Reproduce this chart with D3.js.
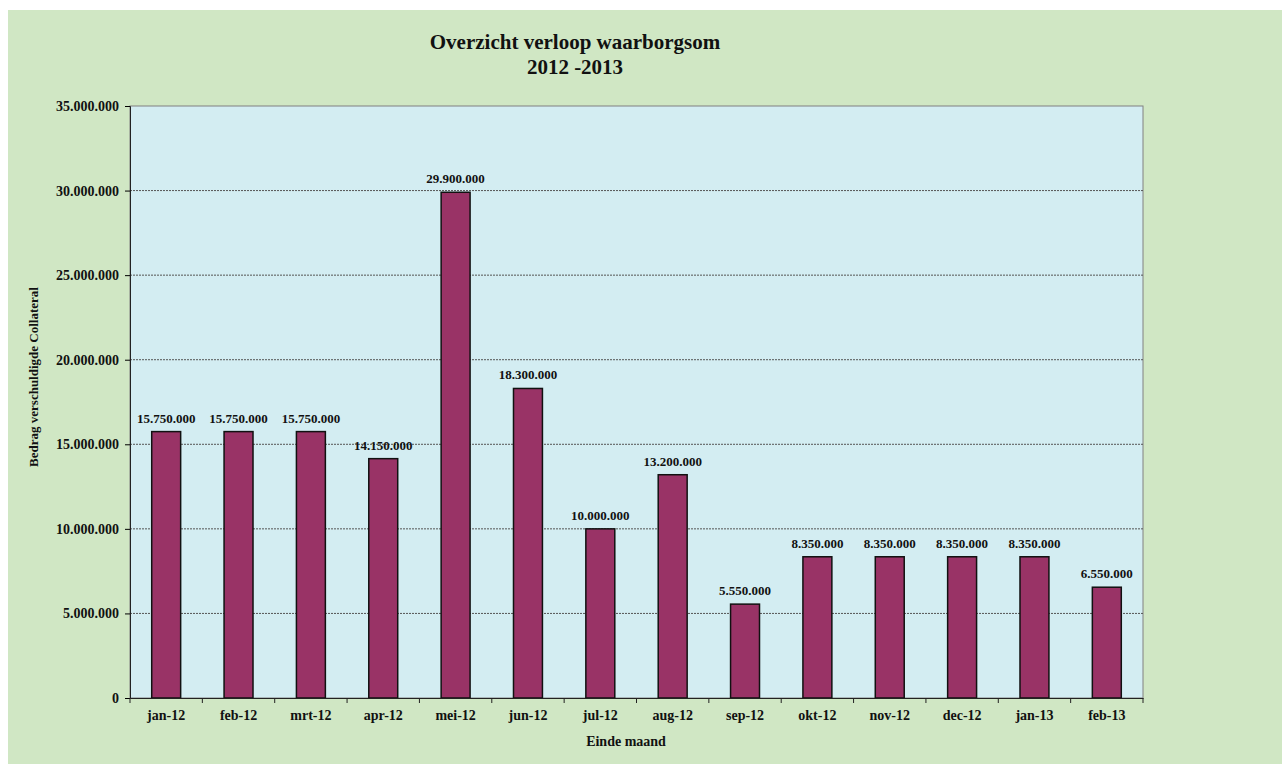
<!DOCTYPE html>
<html>
<head>
<meta charset="utf-8">
<script src="https://cdn.jsdelivr.net/npm/d3@7"></script>
<style>
  body { margin: 0; background: #fff; }
  text { font-family: "Liberation Serif", "Times New Roman", serif; font-weight: bold; fill: #111; }
</style>
</head>
<body>
<div id="chart"></div>
<script>
var months = ["jan-12", "feb-12", "mrt-12", "apr-12", "mei-12", "jun-12", "jul-12",
              "aug-12", "sep-12", "okt-12", "nov-12", "dec-12", "jan-13", "feb-13"];
var amounts = [15750000, 15750000, 15750000, 14150000, 29900000, 18300000, 10000000,
               13200000, 5550000, 8350000, 8350000, 8350000, 8350000, 6550000];
var yTicks = [0, 5000000, 10000000, 15000000, 20000000, 25000000, 30000000, 35000000];

var svgWidth = 1282;
var svgHeight = 764;
var margin = { top: 106, right: 139, bottom: 66, left: 130 };
var width = svgWidth - margin.left - margin.right;
var height = svgHeight - margin.top - margin.bottom;

var nl = d3.formatLocale({ decimal: ",", thousands: ".", grouping: [3], currency: ["", ""] });
var fmt = nl.format(",.0f");

var svg = d3.select("#chart").append("svg")
    .attr("width", svgWidth)
    .attr("height", svgHeight);

// outer green background
svg.append("rect")
    .attr("x", 8).attr("y", 10)
    .attr("width", svgWidth - 8).attr("height", svgHeight - 10)
    .attr("fill", "#d0e7c4");

// title
svg.append("text")
    .attr("x", 575).attr("y", 49)
    .attr("text-anchor", "middle")
    .attr("font-size", "21px")
    .text("Overzicht verloop waarborgsom");
svg.append("text")
    .attr("x", 575).attr("y", 74)
    .attr("text-anchor", "middle")
    .attr("font-size", "21px")
    .text("2012 -2013");

var chartGroup = svg.append("g")
    .attr("transform", `translate(${margin.left}, ${margin.top})`);

// scales
var xScale = d3.scaleBand()
    .domain(months)
    .range([0, width])
    .paddingInner(0.6)
    .paddingOuter(0.3);
var yScale = d3.scaleLinear()
    .domain([0, 35000000])
    .range([height, 0]);

// plot area
chartGroup.append("rect")
    .attr("width", width).attr("height", height)
    .attr("fill", "#d3edf2")
    .attr("stroke", "#808080")
    .attr("stroke-width", 1);

// gridlines
chartGroup.selectAll(".grid")
    .data(yTicks.slice(1, -1))
    .enter()
    .append("line")
    .attr("x1", 0).attr("x2", width)
    .attr("y1", d => yScale(d)).attr("y2", d => yScale(d))
    .attr("stroke", "#555")
    .attr("stroke-width", 1)
    .attr("stroke-dasharray", "2,1");

// bars
chartGroup.selectAll(".bar")
    .data(amounts)
    .enter()
    .append("rect")
    .attr("x", (d, i) => xScale(months[i]))
    .attr("y", d => yScale(d))
    .attr("width", xScale.bandwidth())
    .attr("height", d => height - yScale(d))
    .attr("fill", "#993366")
    .attr("stroke", "#111")
    .attr("stroke-width", 1.5);

// value labels
chartGroup.selectAll(".val")
    .data(amounts)
    .enter()
    .append("text")
    .attr("x", (d, i) => xScale(months[i]) + xScale.bandwidth() / 2)
    .attr("y", d => yScale(d) - 9)
    .attr("text-anchor", "middle")
    .attr("font-size", "13px")
    .text(d => fmt(d));

// axes
var leftAxis = d3.axisLeft(yScale)
    .tickValues(yTicks)
    .tickSize(5)
    .tickPadding(6)
    .tickFormat(d => fmt(d));
var yAxisG = chartGroup.append("g").call(leftAxis);
yAxisG.selectAll("text").attr("font-size", "14px").style("font-family", null);
yAxisG.select(".domain").attr("stroke", "#222");

var bottomAxis = d3.axisBottom(xScale).tickSize(0).tickPadding(12);
var xAxisG = chartGroup.append("g")
    .attr("transform", `translate(0, ${height})`)
    .call(bottomAxis);
xAxisG.selectAll("text").attr("font-size", "14px").style("font-family", null);
xAxisG.select(".domain").attr("stroke", "#222");

// category separator ticks on the x axis
chartGroup.selectAll(".xtick")
    .data(d3.range(months.length + 1))
    .enter()
    .append("line")
    .attr("x1", i => i * width / months.length)
    .attr("x2", i => i * width / months.length)
    .attr("y1", height).attr("y2", height + 5)
    .attr("stroke", "#222");

// axis titles
svg.append("text")
    .attr("transform", "translate(38, 377) rotate(-90)")
    .attr("text-anchor", "middle")
    .attr("font-size", "13px")
    .text("Bedrag verschuldigde Collateral");

svg.append("text")
    .attr("x", 626).attr("y", 746)
    .attr("text-anchor", "middle")
    .attr("font-size", "14px")
    .text("Einde maand");
</script>
</body>
</html>
